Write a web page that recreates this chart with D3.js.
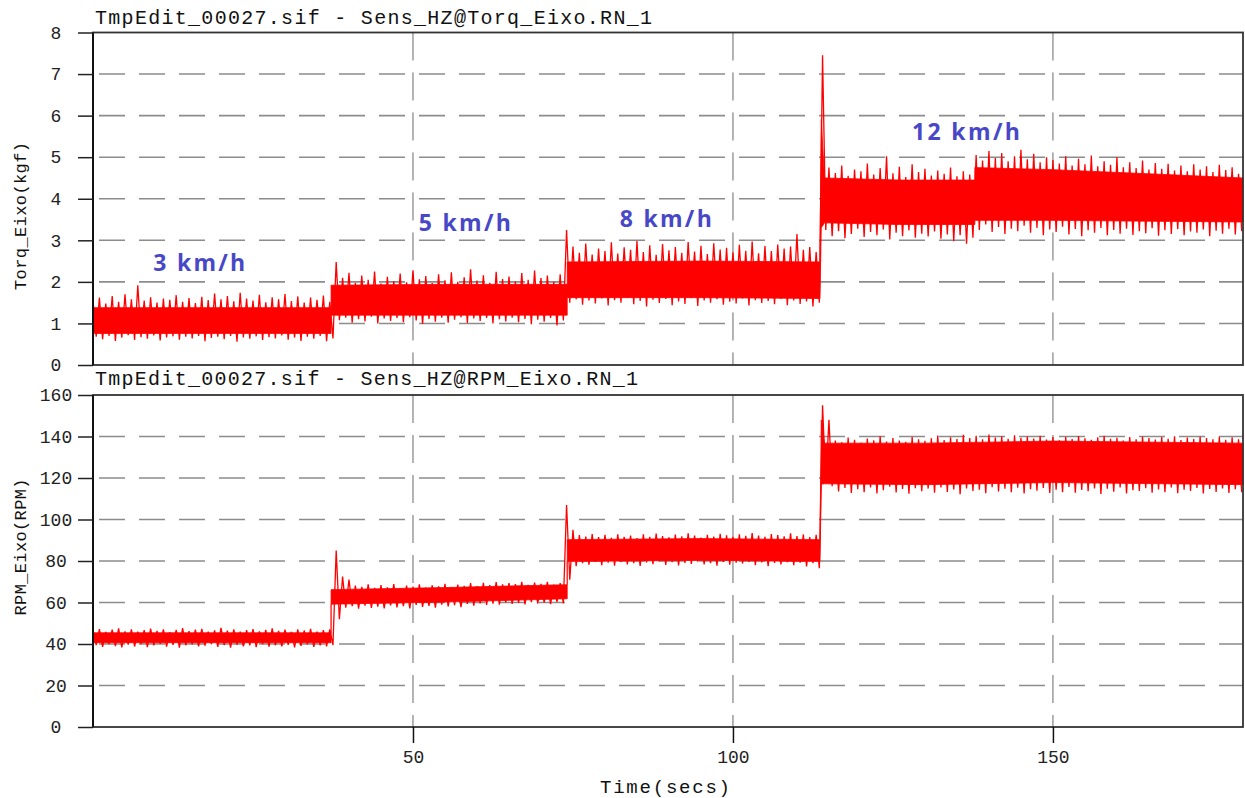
<!DOCTYPE html>
<html><head><meta charset="utf-8">
<script src="https://cdn.jsdelivr.net/npm/d3@7"></script>
<style>
html,body{margin:0;padding:0;background:#fff;}
svg{display:block;}
</style></head>
<body>
<svg id="chart" width="1245" height="798"></svg>
<script>
// ---------- DATA ----------
const timeStart = 0, timeStep = 1;           // one max/min pair per second
const timeDomain = [0, 179.7];
const xTicks = [50, 100, 150];
const torqueTicks = [0,1,2,3,4,5,6,7,8];
const rpmTicks = [0,20,40,60,80,100,120,140,160];

const titleTorque = "TmpEdit_00027.sif - Sens_HZ@Torq_Eixo.RN_1";
const titleRpm = "TmpEdit_00027.sif - Sens_HZ@RPM_Eixo.RN_1";
const yLabelTorque = "Torq_Eixo(kgf)";
const yLabelRpm = "RPM_Eixo(RPM)";
const xLabel = "Time(secs)";

// torque: extremes of the signal in each second
const torqueHi = [
1.55,1.62,1.48,1.66,1.52,1.70,1.58,1.92,1.55,1.63,
1.50,1.60,1.57,1.68,1.52,1.61,1.49,1.64,1.56,1.72,
1.58,1.66,1.53,1.74,1.60,1.55,1.69,1.51,1.63,1.58,
1.71,1.54,1.65,1.50,1.62,1.57,1.67,1.52,2.48,2.10,
2.22,1.98,2.15,2.05,2.25,1.96,2.12,2.02,2.20,1.99,
2.28,2.06,2.14,1.97,2.18,2.04,2.23,2.00,2.11,2.30,
2.03,2.16,1.98,2.24,2.07,2.13,2.01,2.21,2.05,2.27,
2.09,2.15,2.00,2.18,3.25,2.85,2.70,2.92,2.66,2.80,
2.74,2.95,2.68,2.83,2.77,2.98,2.72,2.88,2.65,2.91,
2.76,2.84,2.70,2.96,2.73,2.87,2.67,2.93,2.78,2.82,
2.71,2.89,2.75,2.97,2.69,2.86,2.74,2.90,2.80,2.85,
3.15,2.77,2.84,2.72,7.45,4.75,4.62,4.80,4.55,4.70,
4.66,4.85,4.58,4.74,5.02,4.61,4.77,4.52,4.83,4.64,
4.72,4.56,4.68,4.60,4.75,4.54,4.66,4.58,5.05,4.92,
5.15,4.98,5.10,4.90,5.02,5.18,4.95,5.08,4.88,5.00,
4.93,4.85,5.02,4.80,4.96,4.83,5.04,4.78,4.90,4.82,
5.00,4.76,4.88,4.74,4.92,4.70,4.86,4.72,4.84,4.68,
4.80,4.66,4.83,4.70,4.78,4.64,4.82,4.69,4.76,4.60];
const torqueLo = [
0.68,0.62,0.70,0.58,0.66,0.72,0.60,0.67,0.63,0.71,
0.59,0.66,0.69,0.61,0.68,0.64,0.70,0.57,0.65,0.68,
0.62,0.70,0.56,0.66,0.63,0.69,0.60,0.67,0.64,0.71,
0.61,0.66,0.58,0.68,0.63,0.70,0.57,0.64,1.08,1.14,
1.02,1.10,1.05,1.16,1.00,1.12,1.06,1.13,1.03,1.15,
1.07,0.99,1.11,1.04,1.14,1.02,1.09,1.15,1.01,1.12,
1.06,1.13,1.00,1.10,1.05,1.14,1.03,1.11,0.98,1.09,
1.04,1.13,0.95,1.07,1.50,1.58,1.45,1.55,1.48,1.60,
1.43,1.56,1.50,1.62,1.46,1.54,1.41,1.57,1.49,1.59,
1.44,1.53,1.47,1.61,1.42,1.55,1.50,1.58,1.45,1.52,
1.48,1.60,1.43,1.56,1.49,1.54,1.46,1.59,1.44,1.55,
1.47,1.53,1.41,1.50,3.25,3.10,3.22,3.05,3.15,3.28,
3.08,3.20,3.12,3.26,3.02,3.18,3.10,3.24,3.06,3.16,
3.09,3.21,3.04,3.14,2.98,3.12,2.92,3.06,3.25,3.38,
3.20,3.32,3.15,3.28,3.22,3.35,3.18,3.30,3.12,3.26,
3.20,3.33,3.14,3.27,3.10,3.24,3.18,3.30,3.12,3.25,
3.16,3.28,3.13,3.22,3.17,3.29,3.11,3.24,3.15,3.27,
3.12,3.21,3.18,3.26,3.10,3.23,3.16,3.28,3.14,3.22];
// dense core of the torque band (key points)
const torqueCoreT  = [0, 37.2, 37.2, 55, 74.1, 74.1, 95, 113.6, 113.8, 114.3, 126, 137.8, 137.8, 150, 165, 179.7];
const torqueCoreLo = [0.76,0.76,1.20,1.20,1.20,1.62,1.62,1.60,3.30,3.42,3.38,3.38,3.48,3.48,3.46,3.44];
const torqueCoreHi = [1.38,1.38,1.92,1.94,1.94,2.48,2.50,2.48,5.90,4.50,4.45,4.45,4.75,4.70,4.60,4.50];

// RPM: extremes of the signal in each second
const rpmHi = [
46.5,47.2,45.8,46.9,47.5,46.1,47.0,45.9,46.7,47.4,
46.3,47.1,45.7,46.8,47.6,46.2,46.9,47.3,46.0,46.6,
47.8,46.4,47.0,45.9,46.7,47.2,46.1,46.8,47.5,46.3,
46.9,45.8,47.1,46.5,47.3,46.0,46.7,47.0,85.0,72.5,
71.0,68.2,67.5,68.8,67.0,68.4,67.3,68.9,66.8,68.1,
67.6,68.7,67.2,68.3,67.8,69.0,67.4,68.6,68.0,69.3,
67.9,69.5,68.4,69.8,68.7,69.4,68.9,70.0,68.5,69.6,
69.0,69.9,68.6,69.4,107.0,95.0,92.5,91.8,93.0,91.5,
92.6,91.2,92.9,91.7,92.3,91.0,92.8,91.6,93.2,92.0,
91.4,92.7,91.9,93.4,92.2,91.3,92.6,91.8,93.1,92.4,
91.6,92.9,92.1,93.5,92.3,91.7,93.0,92.5,91.9,93.3,
92.0,92.8,91.5,92.6,155.0,148.0,138.0,137.2,139.5,138.4,
137.0,139.0,138.2,140.2,137.6,139.3,138.0,137.4,139.8,138.6,
137.9,139.1,140.5,138.3,139.6,138.8,140.8,139.2,140.3,138.7,
141.0,139.5,140.1,138.9,140.6,139.4,140.0,139.0,140.4,138.5,
139.7,138.2,139.9,138.8,140.2,139.1,138.4,139.6,140.3,138.9,
139.4,138.1,139.8,138.6,140.0,139.2,138.5,139.7,138.9,140.1,
138.3,139.5,138.8,140.0,139.3,138.6,139.9,138.4,139.6,138.7];
const rpmLo = [
39.5,38.6,40.0,39.0,38.4,39.7,38.8,39.9,38.5,39.3,
40.1,38.7,39.6,38.3,39.4,39.8,38.9,39.2,40.0,38.6,
39.5,38.2,39.7,38.9,39.3,38.5,39.9,38.7,39.4,38.8,
39.6,38.4,39.1,39.8,38.6,39.3,38.9,39.5,52.0,57.5,
58.2,57.0,58.5,57.4,58.0,57.2,58.6,57.6,58.3,57.1,
58.8,57.9,58.4,57.5,59.0,58.1,58.7,57.8,59.3,58.5,
59.6,58.9,59.4,59.0,60.1,59.3,59.8,59.1,60.2,59.5,
59.9,59.2,60.3,59.6,71.0,77.5,79.0,78.2,79.5,78.0,
79.2,77.8,79.6,78.4,79.0,77.6,79.3,78.5,79.8,78.1,
79.4,77.9,79.1,78.6,79.7,78.3,79.0,77.7,79.5,78.2,
79.2,78.8,79.6,78.0,79.3,77.5,79.1,78.4,79.4,78.0,
79.2,77.4,78.9,76.5,118.0,116.0,113.5,115.2,112.8,114.6,
113.2,115.5,112.6,114.1,115.8,113.0,114.7,112.4,115.1,113.6,
114.9,112.9,115.4,113.3,114.5,112.2,115.0,113.8,114.3,112.7,
115.6,113.5,114.8,113.1,115.3,112.5,114.6,113.9,115.2,112.8,
114.4,113.2,115.7,112.9,114.2,113.6,115.0,112.3,114.8,113.4,
115.5,112.6,114.1,113.7,115.1,112.9,114.5,113.2,115.4,112.7,
114.3,113.8,115.2,112.5,114.7,113.3,115.0,112.8,114.6,113.1];
const rpmCoreT  = [0, 37.2, 37.2, 55, 74.1, 74.1, 95, 113.6, 113.8, 114.3, 130, 150, 179.7];
const rpmCoreLo = [40.6,40.6,59.2,60.2,61.8,79.8,80.3,79.8,117.0,117.2,116.8,117.8,116.8];
const rpmCoreHi = [45.4,45.4,66.2,67.2,68.6,90.3,90.8,90.3,148.0,136.8,136.8,137.8,136.8];

// speed annotations (placed in torque-panel data units)
const speedLabels = ["3 km/h", "5 km/h", "8 km/h", "12 km/h"];
const speedLabelT = [16.6, 58.1, 89.5, 136.4];
const speedLabelV = [2.48, 3.44, 3.54, 5.63];

// ---------- DRAWING ----------
const svg = d3.select("#chart");
const RED = "#ff0000", GRID = "#8c8c8c", FRAME = "#333333";
const MONO = "'Liberation Mono','DejaVu Sans Mono',monospace";

const x = d3.scaleLinear().domain(timeDomain).range([93, 1243]);

function panel(cfg) {
  const y = d3.scaleLinear().domain(cfg.domain).range([cfg.bottom, cfg.top]);
  const g = svg.append("g");
  // grid
  g.append("g").selectAll("line").data(cfg.ticks.slice(1, -1)).join("line")
    .attr("x1", x.range()[0]).attr("x2", x.range()[1])
    .attr("y1", d => y(d)).attr("y2", d => y(d))
    .attr("stroke", GRID).attr("stroke-width", 1.6).attr("stroke-dasharray", "26,14")
    .attr("stroke-dashoffset", -6);
  g.append("g").selectAll("line").data(xTicks).join("line")
    .attr("x1", d => x(d)).attr("x2", d => x(d))
    .attr("y1", cfg.top).attr("y2", cfg.bottom)
    .attr("stroke", GRID).attr("stroke-width", 1.3).attr("stroke-dasharray", "28,12");

  // dense core of the signal
  const core = cfg.coreT.map((t, i) => ({t, lo: cfg.coreLo[i], hi: cfg.coreHi[i]}));
  g.append("path").datum(core)
    .attr("d", d3.area().x(d => x(d.t)).y0(d => y(d.lo)).y1(d => y(d.hi)))
    .attr("fill", RED).attr("stroke", RED).attr("stroke-width", 0.8);
  // oscillating trace: maximum at the start of each second, minimum half a second later
  const pts = [];
  cfg.hi.forEach((h, i) => {
    const t = timeStart + i * timeStep;
    pts.push([t, h]);
    pts.push([Math.min(t + timeStep / 2, timeDomain[1]), cfg.lo[i]]);
  });
  g.append("path").datum(pts)
    .attr("d", d3.line().x(d => x(d[0])).y(d => y(d[1])))
    .attr("fill", "none").attr("stroke", RED).attr("stroke-width", 1.3)
    .attr("stroke-linejoin", "miter").attr("stroke-miterlimit", 2);

  // frame
  g.append("rect").attr("x", 93).attr("y", cfg.top)
    .attr("width", 1243 - 93).attr("height", cfg.bottom - cfg.top)
    .attr("fill", "none").attr("stroke", FRAME).attr("stroke-width", 1.8);
  g.append("line").attr("x1", 93).attr("x2", 93).attr("y1", cfg.top).attr("y2", cfg.bottom)
    .attr("stroke", "#111").attr("stroke-width", 2);

  // y axis
  const ax = g.append("g").attr("transform", "translate(93,0)")
    .call(d3.axisLeft(y).tickValues(cfg.ticks).tickSize(15).tickFormat(d3.format("d")));
  ax.select(".domain").remove();
  ax.selectAll(".tick line").attr("stroke", "#222").attr("stroke-width", 1.5);
  ax.selectAll(".tick text").attr("x", -37).attr("text-anchor", "middle")
    .attr("font-family", MONO).attr("font-size", 18).attr("fill", "#222");

  // title
  g.append("text").attr("x", 95).attr("y", cfg.titleY).text(cfg.title)
    .attr("font-family", MONO).attr("font-size", 20).attr("fill", "#111")
    .attr("textLength", cfg.titleLen).attr("lengthAdjust", "spacing");
  // y label
  g.append("text").attr("transform", `translate(26,${cfg.labelY}) rotate(-90)`)
    .attr("text-anchor", "middle").text(cfg.ylabel)
    .attr("font-family", MONO).attr("font-size", 17).attr("fill", "#111")
    .attr("textLength", cfg.labelLen).attr("lengthAdjust", "spacing");
  return y;
}

const yT = panel({domain: [0, 8], top: 32.5, bottom: 365, ticks: torqueTicks,
  coreT: torqueCoreT, coreLo: torqueCoreLo, coreHi: torqueCoreHi,
  hi: torqueHi, lo: torqueLo, title: titleTorque, titleY: 24, titleLen: 557,
  ylabel: yLabelTorque, labelY: 216, labelLen: 148});

const yR = panel({domain: [0, 160], top: 395, bottom: 727, ticks: rpmTicks,
  coreT: rpmCoreT, coreLo: rpmCoreLo, coreHi: rpmCoreHi,
  hi: rpmHi, lo: rpmLo, title: titleRpm, titleY: 385, titleLen: 543,
  ylabel: yLabelRpm, labelY: 547, labelLen: 137});

// x axis on the lower panel
const xa = svg.append("g").attr("transform", "translate(0,727)")
  .call(d3.axisBottom(x).tickValues(xTicks).tickSize(16).tickPadding(7).tickFormat(d3.format("d")));
xa.select(".domain").remove();
xa.selectAll(".tick line").attr("stroke", "#111").attr("stroke-width", 1.5);
xa.selectAll(".tick text").attr("font-family", MONO).attr("font-size", 18).attr("fill", "#222");

svg.append("text").attr("x", 665).attr("y", 793).attr("text-anchor", "middle").text(xLabel)
  .attr("font-family", MONO).attr("font-size", 19).attr("fill", "#111")
  .attr("textLength", 130).attr("lengthAdjust", "spacing");

// speed annotations
svg.append("g").selectAll("text").data(speedLabels).join("text")
  .attr("x", (d, i) => x(speedLabelT[i])).attr("y", (d, i) => yT(speedLabelV[i]))
  .attr("text-anchor", "middle").attr("dominant-baseline", "central")
  .attr("font-family", "'Open Sans','Noto Sans',sans-serif").attr("font-weight", "bold")
  .attr("font-size", 23).attr("fill", "#4747c8")
  .attr("textLength", (d, i) => i === 3 ? 108 : 92).attr("lengthAdjust", "spacing")
  .text(d => d);
</script>
</body></html>
